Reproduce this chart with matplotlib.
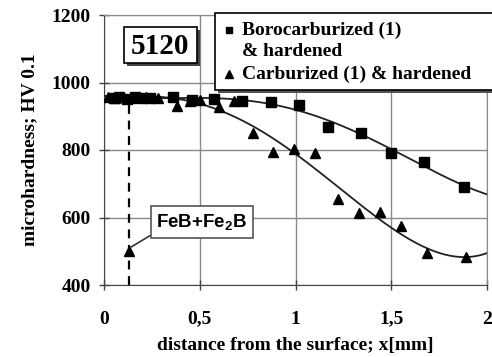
import numpy as np
import matplotlib.pyplot as plt
from matplotlib.patches import Rectangle
from matplotlib.lines import Line2D

# data
boro_x = [0.05, 0.08, 0.12, 0.16, 0.20, 0.24, 0.36, 0.46, 0.575, 0.72,
          0.87, 1.02, 1.17, 1.34, 1.50, 1.67, 1.88]
boro_y = [955, 958, 952, 957, 955, 953, 958, 948, 950, 945,
          942, 934, 869, 851, 792, 765, 691]

carb_x = [0.02, 0.06, 0.10, 0.14, 0.18, 0.22, 0.28, 0.38, 0.45, 0.50, 0.60,
          0.68, 0.78, 0.88, 0.99, 1.10, 1.22, 1.33, 1.44, 1.55, 1.685, 1.89]
carb_y = [957, 955, 958, 954, 956, 957, 955, 930, 945, 947, 928,
          945, 849, 794, 802, 790, 654, 614, 616, 575, 496, 482]

feb_x = 0.13
feb_y = 502

xticks = [0, 0.5, 1, 1.5, 2]
xlabels = ['0', '0,5', '1', '1,5', '2']
yticks = [400, 600, 800, 1000, 1200]

plt.rcParams['font.family'] = 'Liberation Serif'
plt.rcParams['font.weight'] = 'bold'
plt.rcParams['mathtext.fontset'] = 'custom'
plt.rcParams['mathtext.bf'] = 'Liberation Sans:bold'
plt.rcParams['mathtext.rm'] = 'Liberation Sans:bold'

fig = plt.figure(figsize=(4.92, 3.57), dpi=100)
ax = fig.add_axes([104 / 492, 1 - 285 / 357, 383 / 492, 270 / 357])

# trend lines (polynomial fit of the measured points)
xx = np.linspace(0, 2, 200)
pb = np.polyfit(boro_x, boro_y, 4)
pc = np.polyfit(carb_x, carb_y, 4)
ax.plot(xx, np.polyval(pb, xx), color='#222222', lw=1.3, zorder=3)
ax.plot(xx, np.polyval(pc, xx), color='#222222', lw=1.3, zorder=3)

ax.plot(boro_x, boro_y, 's', color='black', ms=6.5, zorder=4)
ax.plot(carb_x, carb_y, '^', color='black', ms=7, zorder=4)
ax.plot([feb_x], [feb_y], '^', color='black', ms=7, zorder=4)

ax.vlines(feb_x, 400, 950, colors='black', linestyles=(0, (4, 3)), lw=1.6, zorder=2)

ax.annotate(r'$\mathbf{FeB{+}Fe_2B}$', xy=(feb_x + 0.01, feb_y + 10),
            xytext=(0.51, 587), fontsize=13.5, ha='center', va='center',
            bbox=dict(boxstyle='square,pad=0.3', fc='white', ec='#555555', lw=1.2),
            arrowprops=dict(arrowstyle='-', color='#333333', lw=1.2,
                            shrinkA=0, shrinkB=0, relpos=(0.0, 0.0)),
            zorder=5)

ax.set_xlim(0, 2)
ax.set_ylim(400, 1200)
ax.set_xticks(xticks)
ax.set_xticklabels(xlabels)
ax.set_yticks(yticks)
ax.tick_params(direction='inout', length=7, width=1, colors='#444444',
               labelcolor='black', labelsize=14, pad=6)
ax.tick_params(axis='x', pad=15)
ax.grid(True, color='#8a8a8a', lw=1)
ax.set_axisbelow(True)
for s in ['top', 'right']:
    ax.spines[s].set_color('#8a8a8a')
for s in ['left', 'bottom']:
    ax.spines[s].set_color('#444444')
ax.set_xlabel('distance from the surface; x[mm]', fontsize=14, fontweight='bold', labelpad=7)
ax.set_ylabel('microhardness; HV 0.1', fontsize=14, fontweight='bold', labelpad=10)

# 5120 label box with shadow
def fx(px):
    return px / 492

def fy(py):
    return 1 - py / 357

fig.add_artist(Rectangle((fx(127), fy(66)), fx(73), fy(27) - fy(63),
                         transform=fig.transFigure, fc='#444444', ec='none', zorder=6))
fig.add_artist(Rectangle((fx(124), fy(63)), fx(73), fy(27) - fy(63),
                         transform=fig.transFigure, fc='white', ec='black', lw=1.2, zorder=7))
fig.text(fx(160.5), fy(46), '5120', fontsize=21, ha='center', va='center', zorder=8)

# legend drawn by hand, it runs past the right edge
fig.add_artist(Rectangle((fx(218), fy(93)), fx(290), fy(15) - fy(93),
                         transform=fig.transFigure, fc='#555555', ec='none', zorder=9))
fig.add_artist(Rectangle((fx(215), fy(90)), fx(290), fy(13) - fy(90),
                         transform=fig.transFigure, fc='white', ec='black', lw=1.2, zorder=10))
fig.add_artist(Line2D([fx(229)], [fy(30)], marker='s', color='black', ms=5,
                      transform=fig.transFigure, zorder=11))
fig.add_artist(Line2D([fx(229)], [fy(74)], marker='^', color='black', ms=6,
                      transform=fig.transFigure, zorder=11))
fig.text(fx(242), fy(30), 'Borocarburized (1)', fontsize=14, va='center', zorder=11)
fig.text(fx(242), fy(52), '& hardened', fontsize=14, va='center', zorder=11)
fig.text(fx(242), fy(74), 'Carburized (1) & hardened', fontsize=14, va='center', zorder=11)

fig.savefig('out.png', dpi=100, facecolor='white')
